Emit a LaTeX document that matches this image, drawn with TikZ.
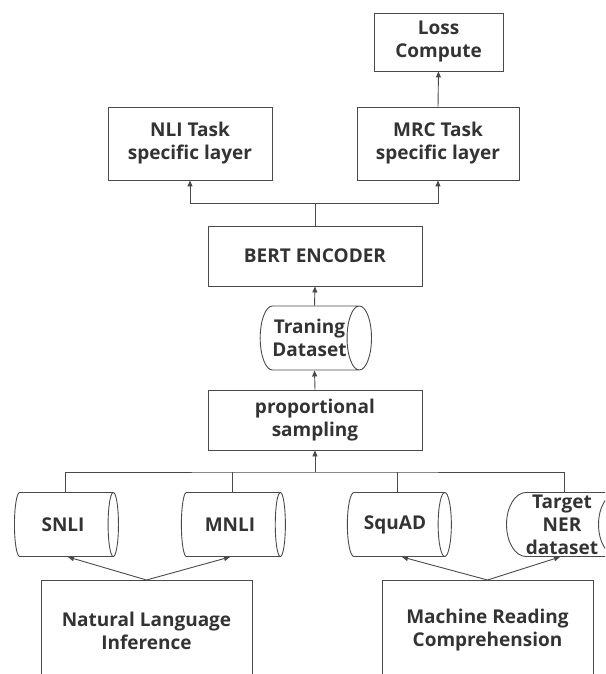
\documentclass[tikz,border=0pt]{standalone}
\usepackage{fontspec}
\setmainfont{Open Sans}
\usepackage{xcolor}
\usetikzlibrary{arrows.meta,positioning,shapes.geometric}

\definecolor{linegray}{HTML}{4A4A4A}
\definecolor{textgray}{HTML}{333333}

\begin{document}
\begin{tikzpicture}[
  x=1pt, y=-1pt,
  font=\bfseries\fontsize{19}{23}\selectfont, text=textgray,
  box/.style={draw=linegray, line width=0.9pt, align=center, inner sep=2pt},
  db/.style={draw=linegray, line width=0.9pt, cylinder, shape aspect=0.65,
             align=center, inner sep=1pt, minimum height=104pt, minimum width=64pt},
  arr/.style={-{Triangle[length=6pt,width=5pt]}, draw=linegray, line width=0.9pt},
  lin/.style={draw=linegray, line width=0.9pt}
]
\clip (0,0) rectangle (605,674);
% --- task heads ---
\node[box, minimum width=129pt, minimum height=58pt] (loss) at (438.5,42) {Loss\\ Compute};
\node[box, minimum width=164pt, minimum height=73pt] (nlitask) at (190,143.5) {NLI Task\\ specific layer};
\node[box, minimum width=162pt, minimum height=73pt] (mrctask) at (438,143.5) {MRC Task\\ specific layer};
% --- shared encoder ---
\node[box, minimum width=214pt, minimum height=60pt] (bert) at (315,256) {BERT ENCODER};
\node[db, inner sep=0pt] (train) at (309.5,338) {Traning\\ Dataset};
\node[box, minimum width=214pt, minimum height=60pt] (samp) at (315,420) {proportional\\ sampling};
% --- datasets (cylinder centre sits left of the drawn middle) ---
\node[db] (snli) at (63,524.5) {SNLI};
\node[db] (mnli) at (230,524.5) {MNLI};
\node[db] (squad) at (395,524.5) {SquAD};
\node[db, inner sep=0pt] (target) at (562,524.5) {Target\\ NER\\ dataset};
% --- task families ---
\node[box, minimum width=211pt, minimum height=100pt, anchor=north] (nli) at (146.5,580) {Natural Language\\ Inference};
\node[box, minimum width=211pt, minimum height=100pt, anchor=north] (mrc) at (487.5,580) {Machine Reading\\ Comprehension};
% --- bus points ---
\coordinate (topbus) at (315,203);
\coordinate (botbus) at (315,472);
% --- arrows ---
\draw[lin] (bert.north) -- (topbus);
\draw[arr] (topbus) -| (nlitask.south);
\draw[arr] (topbus) -| (mrctask.south);
\draw[arr] (mrctask.north) -- (loss.south);
\draw[arr] ([xshift=5pt]train.north) -- (bert.south);
\draw[arr] (samp.north) -- ([xshift=5pt]train.south);
\draw[lin] ([xshift=2pt]snli.north) |- (botbus) -| ([xshift=2pt]target.north);
\draw[lin] ([xshift=2pt]mnli.north) -- ([xshift=2pt]mnli.north |- botbus);
\draw[lin] ([xshift=2pt]squad.north) -- ([xshift=2pt]squad.north |- botbus);
\draw[arr] (botbus) -- (samp.south);
\draw[arr] (nli.north) -- ([xshift=5pt]snli.south);
\draw[arr] (nli.north) -- (mnli.south);
\draw[arr] (mrc.north) -- ([xshift=7pt]squad.south);
\draw[arr] (mrc.north) -- ([xshift=-2pt]target.south);
\end{tikzpicture}
\end{document}
